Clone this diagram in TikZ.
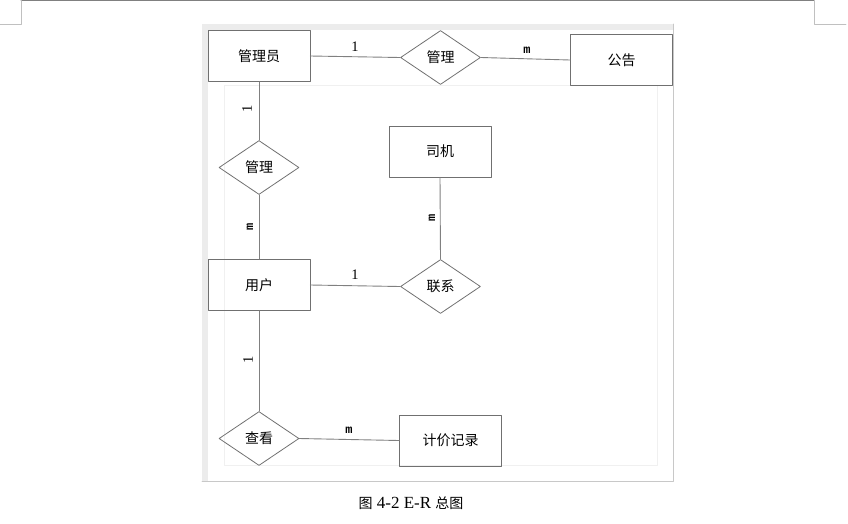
\documentclass[tikz,border=0pt]{standalone}
\usepackage{fontspec}
\setmainfont{Liberation Serif}
\setmonofont{Liberation Mono}
\newfontfamily\cjk{Noto Sans CJK SC}
\usetikzlibrary{shapes.geometric}
\definecolor{boxgray}{HTML}{707070}
\definecolor{linegray}{HTML}{808080}
\definecolor{framegray}{HTML}{C8C8C8}
\definecolor{bandgray}{HTML}{ECECEC}
\definecolor{markgray}{HTML}{C0C0C0}
\begin{document}
\begin{tikzpicture}[x=1pt, y=-1pt, line join=round, line cap=round,
	entity/.style={draw=boxgray, line width=0.8pt, minimum width=102pt, minimum height=51pt, inner sep=0pt, font=\fontsize{14}{16}\selectfont\cjk},
	relation/.style={diamond, draw=boxgray, line width=0.8pt, minimum width=80pt, minimum height=54pt, inner sep=0pt, font=\fontsize{14}{16}\selectfont\cjk},
	link/.style={draw=linegray, line width=0.9pt},
	one/.style={inner sep=0pt, font=\fontsize{14.5}{16}\selectfont},
	many/.style={inner sep=0pt, font=\fontsize{12}{13}\selectfont\ttfamily\bfseries}]
	\useasboundingbox (0,0) rectangle (848,523);
	%Page marks.
	\draw[line width=0.8pt, draw=gray] (21,0.5)--(814,0.5);
	\draw[line width=0.8pt, draw=markgray] (0,24.5)--(21.3,24.5)--(21.3,0.5);
	\draw[line width=0.8pt, draw=markgray] (814.3,0.5)--(814.3,24.5)--(846,24.5);
	%Frame.
	\fill[bandgray] (202,24) rectangle (673,30);
	\fill[bandgray] (202,24) rectangle (208,481);
	\draw[framegray, line width=0.8pt] (202,481)--(673,481)--(673,24);
	\draw[black!6, line width=0.5pt] (224,85) rectangle (657,465);
	%Entities.
	\node[entity] (admin) at (259,56) {管理员};
	\node[entity] (notice) at (621.5,60) {公告};
	\node[entity] (driver) at (440,151.5) {司机};
	\node[entity] (user) at (259,285) {用户};
	\node[entity] (record) at (450.5,440.5) {计价记录};
	%Relations.
	\node[relation] (manageA) at (440.5,57.5) {管理};
	\node[relation] (manageB) at (259,167.5) {管理};
	\node[relation] (contact) at (440.5,286.5) {联系};
	\node[relation] (view) at (259,438.5) {查看};
	%Links.
	\draw[link] (admin.east)--(manageA.west);
	\draw[link] (manageA.east)--(notice.west);
	\draw[link] (admin.south)--(manageB.north);
	\draw[link] (manageB.south)--(user.north);
	\draw[link] (driver.south)--(contact.north);
	\draw[link] (user.east)--(contact.west);
	\draw[link] (user.south)--(view.north);
	\draw[link] (view.east)--(record.west);
	%Cardinalities.
	\node[one] (c1) at (355,46.5) {1};
	\node[many] (c2) at (527,50.5) {m};
	\node[one, rotate=90] (c3) at (247,108.5) {1};
	\node[many, rotate=90] (c4) at (250,226.5) {m};
	\node[many, rotate=90] (c5) at (432,217.5) {m};
	\node[one] (c6) at (355,274.5) {1};
	\node[one, rotate=90] (c7) at (248,360) {1};
	\node[many] (c8) at (349,430) {m};
	%Caption.
	\node[font=\fontsize{17}{19}\selectfont] (cap) at (411,503.5) {{\fontsize{14}{16}\selectfont\cjk 图} 4-2 E-R {\fontsize{14}{16}\selectfont\cjk 总图}};
\end{tikzpicture}
\end{document}
